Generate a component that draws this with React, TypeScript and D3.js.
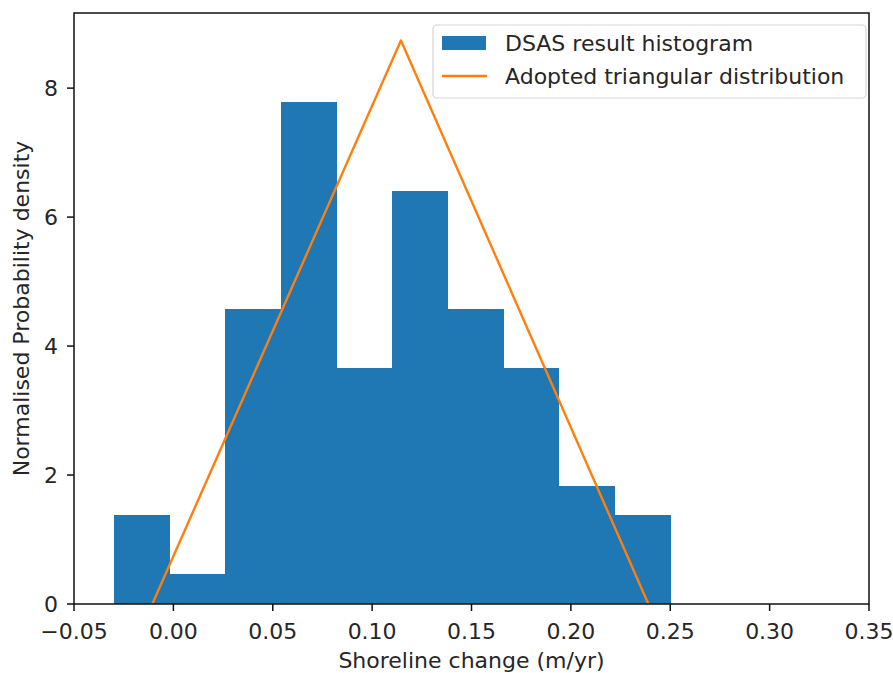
import React from "react";
import * as d3 from "d3";

const binEdges = [-0.03, -0.002, 0.026, 0.054, 0.082, 0.11, 0.138, 0.166, 0.194, 0.222, 0.25];
const binDensity = [1.374, 0.458, 4.579, 7.784, 3.663, 6.41, 4.579, 3.663, 1.832, 1.374];
const triX = [-0.0106, 0.1145, 0.239];
const triY = [0, 8.74, 0];
const xTicks = [-0.05, 0, 0.05, 0.1, 0.15, 0.2, 0.25, 0.3, 0.35];
const yTicks = [0, 2, 4, 6, 8];
const legendLabels = ["DSAS result histogram", "Adopted triangular distribution"];

const W = 893, H = 673;
const L = 74, R = 869, T = 13, B = 604;
const FONT = "DejaVu Sans, sans-serif";
const TXT = "#262626";
const FS = 22;

export default function App() {
  const x = d3.scaleLinear().domain([-0.05, 0.35]).range([L, R]);
  const y = d3.scaleLinear().domain([0, 9.165]).range([B, T]);
  const line = d3.line<number>().x((_, i) => x(triX[i])).y((d) => y(d));
  return (
    <svg width={W} height={H} style={{ position: "absolute", left: 0, top: 0, background: "#fff" }}>
      <g shapeRendering="crispEdges">
        {binDensity.map((d, i) => (
          <rect key={i} x={x(binEdges[i])} y={y(d)} width={x(binEdges[i + 1]) - x(binEdges[i]) + 0.5} height={y(0) - y(d)} fill="#1f77b4" />
        ))}
      </g>
      <path d={line(triY) || ""} fill="none" stroke="#ff7f0e" strokeWidth={2.4} strokeLinejoin="round" />
      <rect x={L} y={T} width={R - L} height={B - T} fill="none" stroke="#111" strokeWidth={1.5} />
      {xTicks.map((t) => (
        <g key={t}>
          <line x1={x(t)} x2={x(t)} y1={B} y2={B + 7} stroke="#111" strokeWidth={1.5} />
          <text x={x(t)} y={631} textAnchor="middle" dominantBaseline="central" fontFamily={FONT} fontSize={FS} fill={TXT}>
            {t < 0 ? "\u2212" + Math.abs(t).toFixed(2) : t.toFixed(2)}
          </text>
        </g>
      ))}
      {yTicks.map((t) => (
        <g key={t}>
          <line x1={L - 7} x2={L} y1={y(t)} y2={y(t)} stroke="#111" strokeWidth={1.5} />
          <text x={58} y={y(t)} textAnchor="end" dominantBaseline="central" fontFamily={FONT} fontSize={FS} fill={TXT}>
            {t}
          </text>
        </g>
      ))}
      <text x={(L + R) / 2} y={660} textAnchor="middle" dominantBaseline="central" fontFamily={FONT} fontSize={FS} fill={TXT}>
        Shoreline change (m/yr)
      </text>
      <text transform={`translate(21,${(T + B) / 2}) rotate(-90)`} textAnchor="middle" dominantBaseline="central" fontFamily={FONT} fontSize={FS} fill={TXT}>
        Normalised Probability density
      </text>
      <g>
        <rect x={433} y={25} width={433} height={73} rx={4} fill="#fff" fillOpacity={0.8} stroke="#d6d6d6" strokeWidth={1.2} />
        <rect x={442} y={36} width={44} height={14} fill="#1f77b4" />
        <line x1={442} x2={487} y1={76} y2={76} stroke="#ff7f0e" strokeWidth={2.4} />
        <text x={505} y={43} dominantBaseline="central" fontFamily={FONT} fontSize={FS} fill={TXT}>{legendLabels[0]}</text>
        <text x={505} y={76} dominantBaseline="central" fontFamily={FONT} fontSize={FS} fill={TXT}>{legendLabels[1]}</text>
      </g>
    </svg>
  );
}
